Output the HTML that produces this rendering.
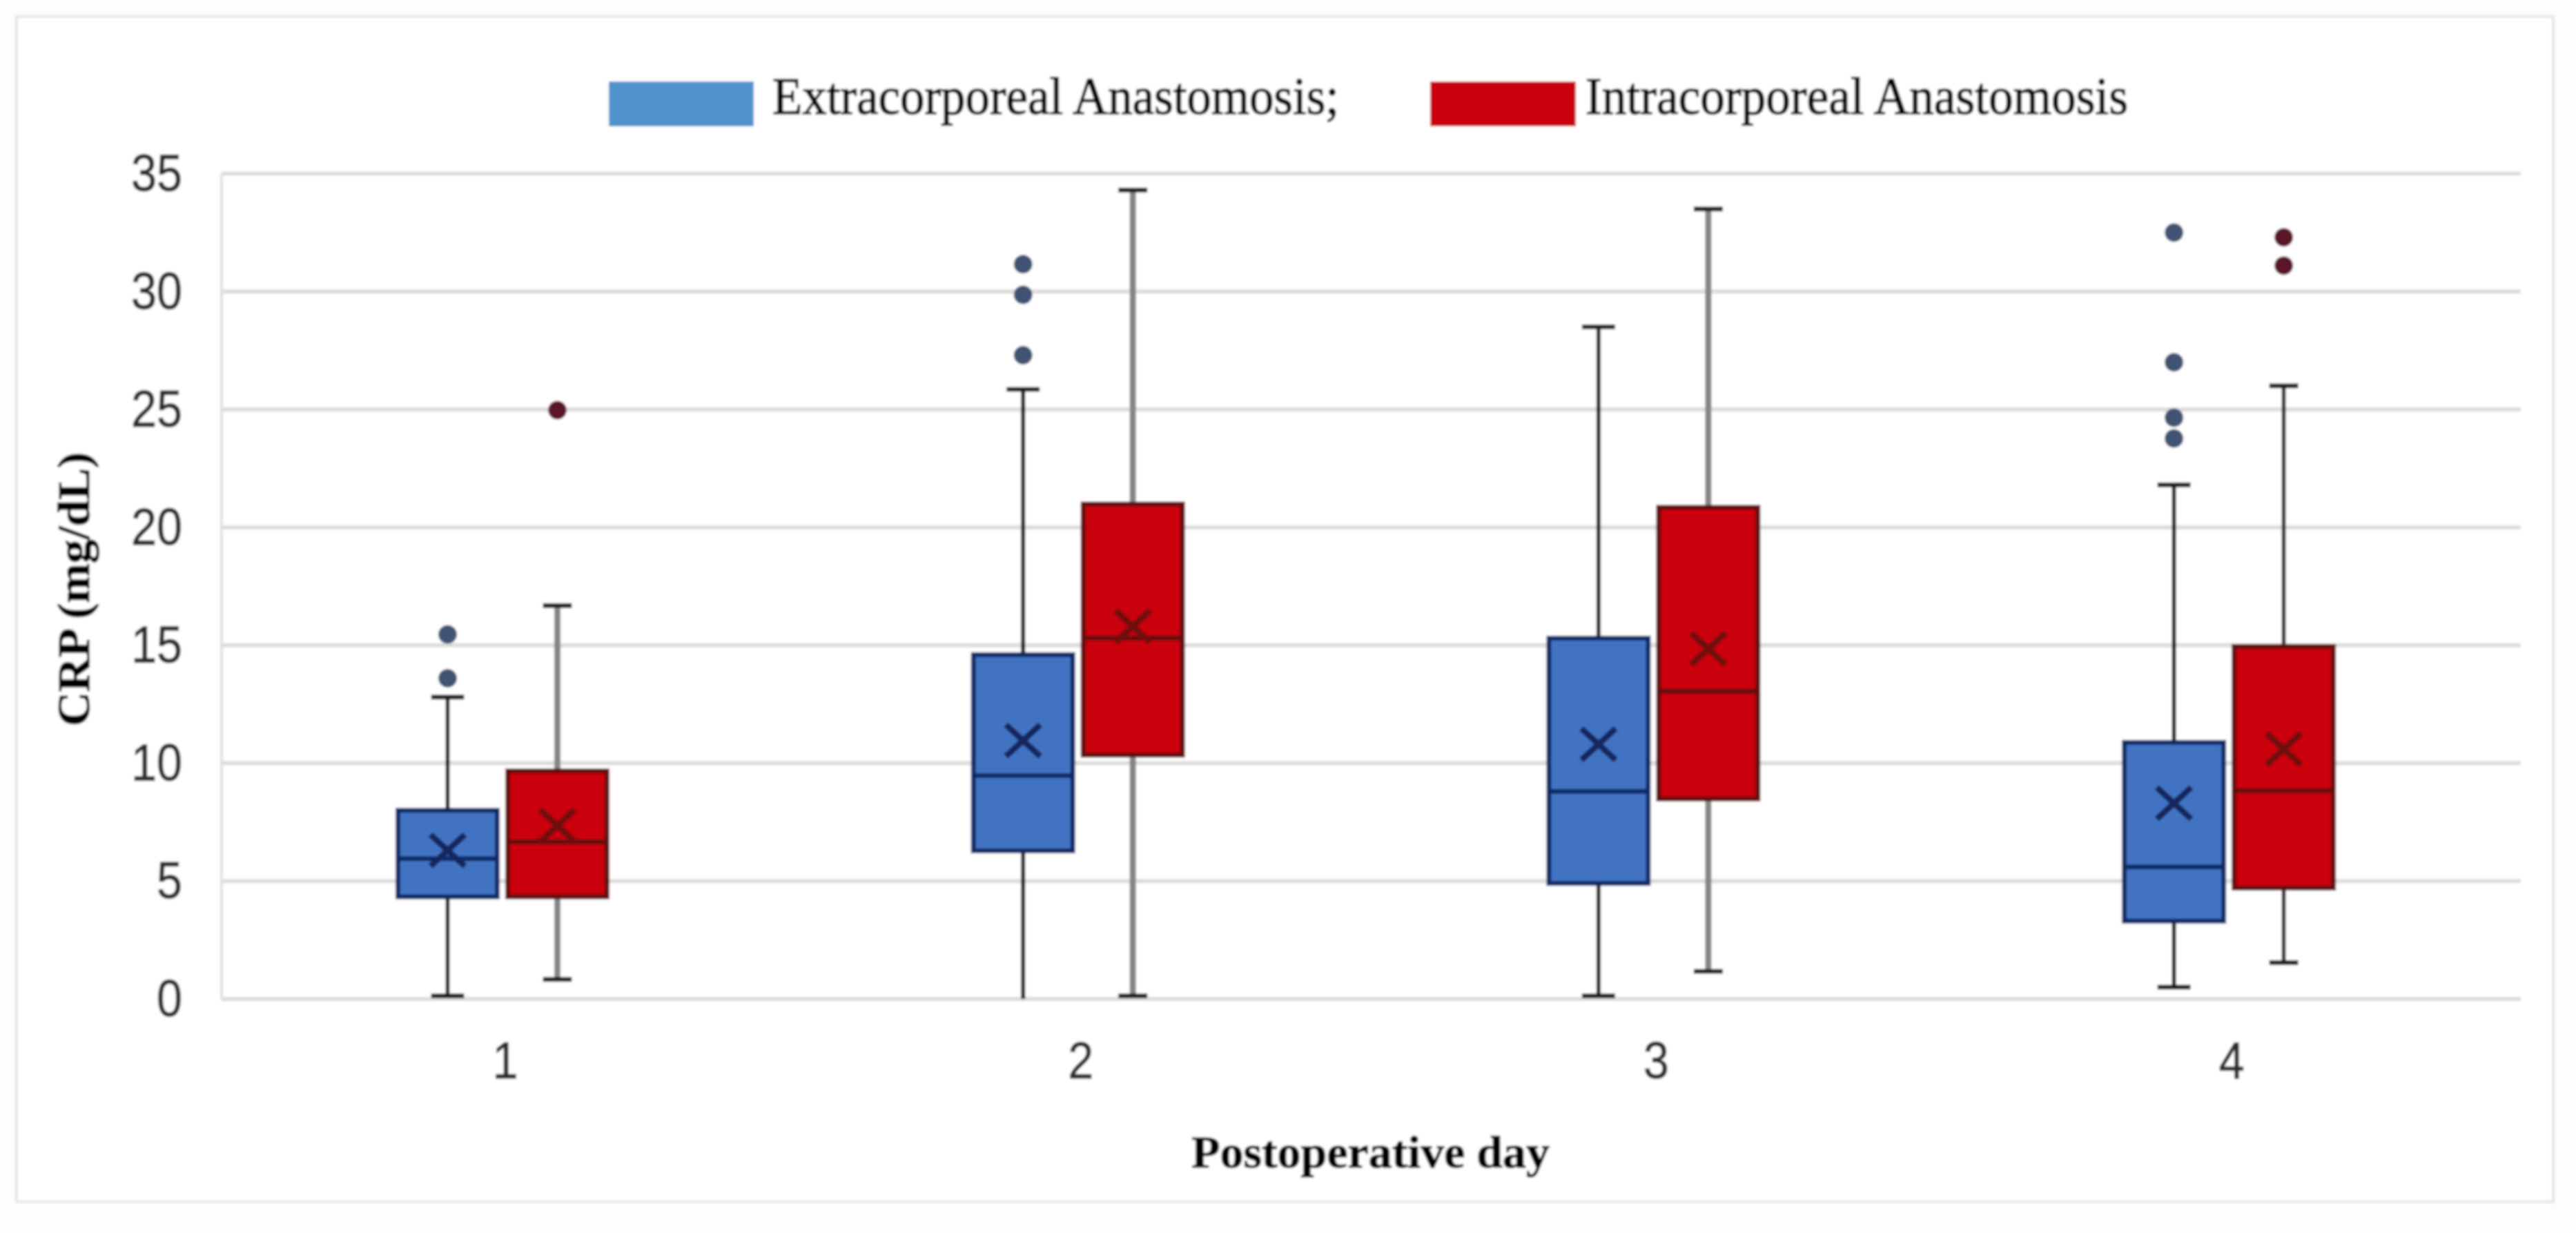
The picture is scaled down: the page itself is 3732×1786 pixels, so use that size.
<!DOCTYPE html>
<html lang="en">
<head>
<meta charset="utf-8">
<title>CRP by postoperative day</title>
<style>
  html,body{margin:0;padding:0;background:#fdfdfd;}
  body{width:3732px;height:1786px;overflow:hidden;}
  svg{display:block;}
  .ax{font-family:"Liberation Sans",sans-serif;font-size:75px;fill:#2a2a2a;stroke:#2a2a2a;stroke-width:1.2px;}
  .leg{font-family:"Liberation Serif",serif;font-size:76px;fill:#000;stroke:#000;stroke-width:1.6px;}
  .ttl{font-family:"Liberation Serif",serif;font-size:66px;font-weight:bold;fill:#000;stroke:#000;stroke-width:1.2px;}
</style>
</head>
<body>
<svg id="chart" xmlns="http://www.w3.org/2000/svg" width="3732" height="1786" viewBox="0 0 3732 1786">
  <defs>
    <filter id="soft" x="0" y="0" width="3732" height="1786" filterUnits="userSpaceOnUse" primitiveUnits="userSpaceOnUse">
      <feGaussianBlur stdDeviation="1.6"/>
    </filter>
  </defs>
  <g id="root" filter="url(#soft)">
    <rect x="24" y="24" width="3675" height="1717" fill="#ffffff" stroke="#e6e6e6" stroke-width="4"/>
    <g id="grid"></g>
    <g id="yticks"></g>
    <g id="xticks"></g>
    <g id="boxes"></g>
    <g>
      <rect x="882" y="118" width="210" height="65" fill="#4f92cc"/>
      <text class="leg" x="1119" y="165" textLength="821" lengthAdjust="spacingAndGlyphs">Extracorporeal Anastomosis;</text>
      <rect x="2072" y="118" width="211" height="65" fill="#c8000f"/>
      <text class="leg" x="2297" y="165" textLength="786" lengthAdjust="spacingAndGlyphs">Intracorporeal Anastomosis</text>
    </g>
    <text class="ttl" x="1726" y="1691" textLength="519" lengthAdjust="spacingAndGlyphs">Postoperative day</text>
    <text class="ttl" transform="translate(129,1052) rotate(-90)" x="0" y="0" textLength="397" lengthAdjust="spacingAndGlyphs">CRP (mg/dL)</text>
  </g>
</svg>
<script>
const categories = ['1', '2', '3', '4'];
const yTicks = [0, 5, 10, 15, 20, 25, 30, 35];

const extraMin = [0.13, 0, 0.13, 0.5];
const extraQ1 = [4.33, 6.28, 4.9, 3.3];
const extraMedian = [5.95, 9.47, 8.8, 5.6];
const extraQ3 = [8.0, 14.6, 15.3, 10.88];
const extraMax = [12.8, 25.85, 28.5, 21.8];
const extraMean = [6.3, 10.96, 10.8, 8.3];
const extraOutliers = [[15.46, 13.6], [31.16, 29.86, 27.3], [], [32.5, 27, 24.65, 23.77]];

const intraMin = [0.83, 0.13, 1.17, 1.54];
const intraQ1 = [4.33, 10.34, 8.48, 4.7];
const intraMedian = [6.66, 15.3, 13.05, 8.83];
const intraQ3 = [9.67, 20.99, 20.85, 14.95];
const intraMax = [16.68, 34.3, 33.5, 26];
const intraMean = [7.35, 15.8, 14.85, 10.6];
const intraOutliers = [[24.97], [], [], [32.3, 31.1]];

const NS = 'http://www.w3.org/2000/svg';
const plotLeft = 321, plotRight = 3652, plotBottom = 1447, plotTop = 251.5;

function yScale(v) {
  return plotBottom - (v / 35) * (plotBottom - plotTop);
}
function xLabelScale(i) {
  return 732 + 833.7 * i;
}
function xGroupScale(i) {
  return xLabelScale(i) - 4;
}
function shape(tag, attrs, parent) {
  const el = document.createElementNS(NS, tag);
  Object.keys(attrs).forEach(function (k) { el.setAttribute(k, attrs[k]); });
  parent.appendChild(el);
  return el;
}

const gridG = document.getElementById('grid');
const yG = document.getElementById('yticks');
const xG = document.getElementById('xticks');
const boxG = document.getElementById('boxes');

const yAxisLine = shape('line', {x1: plotLeft, x2: plotLeft, y1: yScale(35), y2: yScale(0), stroke: '#e0e0e0', 'stroke-width': 4}, gridG);



yTicks.forEach(function (t) {
  const line = shape('line', {x1: plotLeft, x2: plotRight, y1: yScale(t), y2: yScale(t), stroke: '#dcdcdc', 'stroke-width': 6}, gridG);
  
  
  const txt = String(t);
  const label = shape('text', {class: 'ax', x: 264, y: yScale(t) + 25, 'text-anchor': 'end', textLength: txt.length * 37, lengthAdjust: 'spacingAndGlyphs'}, yG);
  label.textContent = txt;
  
  
});

categories.forEach(function (c, i) {
  const label = shape('text', {class: 'ax', x: xLabelScale(i), y: 1562, 'text-anchor': 'middle', textLength: 37, lengthAdjust: 'spacingAndGlyphs'}, xG);
  label.textContent = c;
  
  
});

function drawBox(i, cx, s) {
  const g = shape('g', {}, boxG);
  
  
  const halfBox = 72;
  const wc = s.whisker(i);
  const whiskerW = wc === '#858585' ? 9 : 6;

  const whisker = shape('line', {x1: cx, x2: cx, y1: yScale(s.max[i]), y2: yScale(s.min[i]), stroke: wc, 'stroke-width': whiskerW}, g);
  
  

  const capHi = shape('line', {x1: cx - s.cap, x2: cx + s.cap, y1: yScale(s.max[i]), y2: yScale(s.max[i]), stroke: '#1a1a1a', 'stroke-width': 7}, g);
  
  

  if (s.min[i] > 0) {
    const capLo = shape('line', {x1: cx - s.cap, x2: cx + s.cap, y1: yScale(s.min[i]), y2: yScale(s.min[i]), stroke: '#1a1a1a', 'stroke-width': 7}, g);
    
    
  }

  const rect = shape('rect', {x: cx - halfBox, y: yScale(s.q3[i]), width: halfBox * 2, height: yScale(s.q1[i]) - yScale(s.q3[i]), fill: s.fill, stroke: s.edge, 'stroke-width': 7}, g);
  
  

  const med = shape('line', {x1: cx - halfBox, x2: cx + halfBox, y1: yScale(s.median[i]), y2: yScale(s.median[i]), stroke: s.edge, 'stroke-width': 7}, g);
  
  

  const my = yScale(s.mean[i]);
  const mean = shape('path', {d: 'M' + (cx - 25) + ' ' + (my - 23) + 'L' + (cx + 25) + ' ' + (my + 23) + 'M' + (cx + 25) + ' ' + (my - 23) + 'L' + (cx - 25) + ' ' + (my + 23), stroke: s.mark, 'stroke-width': 9, fill: 'none'}, g);
  
  

  s.outliers[i].forEach(function (v) {
    const dot = shape('circle', {cx: cx, cy: yScale(v), r: 13.5, fill: s.dot}, g);
    
    
  });
}

const extraSeries = {key: 'extracorporeal', min: extraMin, q1: extraQ1, median: extraMedian, q3: extraQ3, max: extraMax, mean: extraMean, outliers: extraOutliers,
  fill: '#4373c3', edge: '#0f2a66', mark: '#14285e', dot: '#3f5273', cap: 24,
  whisker: function () { return '#0a0a0a'; }};
const intraSeries = {key: 'intracorporeal', min: intraMin, q1: intraQ1, median: intraMedian, q3: intraQ3, max: intraMax, mean: intraMean, outliers: intraOutliers,
  fill: '#cb0010', edge: '#620a0e', mark: '#700a10', dot: '#5a1428', cap: 21,
  whisker: function (i) { return i === 3 ? '#2a2a2a' : '#858585'; }};

categories.forEach(function (c, i) {
  const mid = xGroupScale(i);
  drawBox(i, mid - 79.5, extraSeries);
  drawBox(i, mid + 79.5, intraSeries);
});
</script>
</body>
</html>
